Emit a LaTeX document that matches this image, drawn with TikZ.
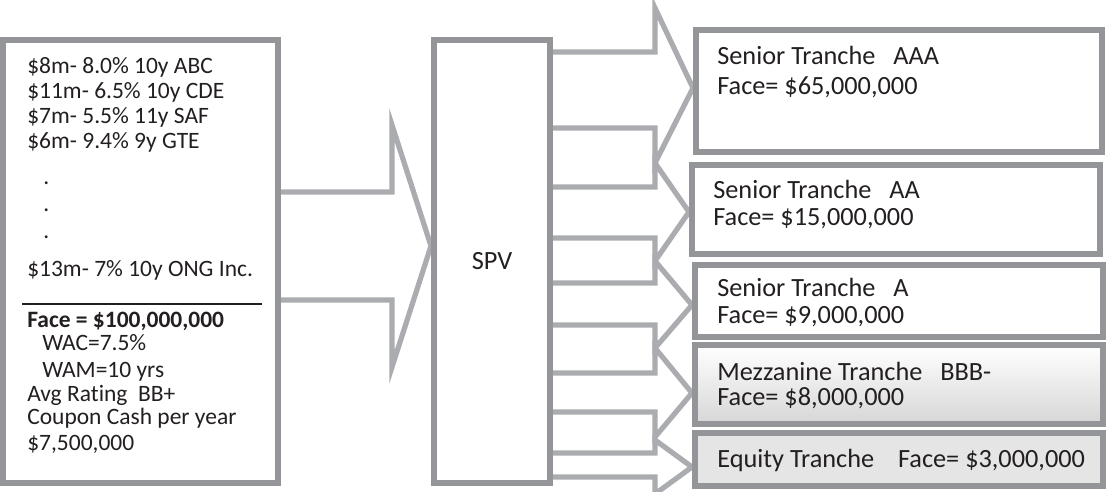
\documentclass[tikz,border=0pt]{standalone}
\usepackage{fontspec}
\setmainfont{Carlito}[Ligatures={NoCommon}]
\usetikzlibrary{fit,backgrounds}
\definecolor{boxgray}{HTML}{939598}
\definecolor{arrowgray}{HTML}{AAACAF}
\definecolor{ink}{HTML}{231F20}

\begin{document}
\begin{tikzpicture}[x=0.025cm, y=-0.025cm,
    box/.style={draw=boxgray, line width=4.3pt, fill=white, inner sep=0pt},
    blockarrow/.style={draw=arrowgray, line width=3.7pt},
    ltext/.style={anchor=base west, inner sep=0pt, text=ink, font=\fontsize{16.7}{18}\selectfont},
    rtext/.style={anchor=base west, inner sep=0pt, text=ink, font=\fontsize{18.7}{20}\selectfont}]
    \useasboundingbox (0,0) rectangle (1107,492);
    % collateral pool
    \node[box, line width=3.8pt, fit={(3,40) (278,483)}] (pool) {};
    \node[ltext] (b1) at (27,74) {\$8m- 8.0\% 10y ABC};
    \node[ltext] (b2) at (27,99) {\$11m- 6.5\% 10y CDE};
    \node[ltext] (b3) at (27,124) {\$7m- 5.5\% 11y SAF};
    \node[ltext] (b4) at (27,149) {\$6m- 9.4\% 9y GTE};
    \node[ltext] (d1) at (43,185) {.};
    \node[ltext] (d2) at (43,212) {.};
    \node[ltext] (d3) at (43,239) {.};
    \node[ltext] (bn) at (27,277) {\$13m- 7\% 10y ONG Inc.};
    \draw[ink, line width=2.1pt] (22,304) -- (262,304);
    \node[ltext] (face) at (27,327) {\textbf{Face = \$100,000,000}};
    \node[ltext] (wac) at (42,351) {WAC=7.5\%};
    \node[ltext] (wam) at (42,377) {WAM=10 yrs};
    \node[ltext] (rating) at (27,401) {Avg Rating~~BB+};
    \node[ltext] (coupon) at (27,425) {Coupon Cash per year};
    \node[ltext] (cash) at (27,450) {\$7,500,000};
    % SPV
    \node[box, fit={(434,40) (550,483)}] (spv) {};
    \node[rtext, anchor=center] (spvname) at (spv) {SPV};
    % tranches
    \node[box, fit={(696,30) (1102,152)}] (aaa) {};
    \node[rtext] (aaa1) at (717,65) {Senior Tranche~~~AAA};
    \node[rtext] (aaa2) at (717,95) {Face= \$65,000,000};
    \node[box, fit={(692,165) (1100,254)}] (aa) {};
    \node[rtext] (aa1) at (713,199) {Senior Tranche~~~AA};
    \node[rtext] (aa2) at (713,226) {Face= \$15,000,000};
    \node[box, fit={(695,265) (1103,337)}] (sa) {};
    \node[rtext] (sa1) at (717,297) {Senior Tranche~~~A};
    \node[rtext] (sa2) at (717,323) {Face= \$9,000,000};
    \node[box, top color=white, bottom color=gray!32, fit={(695,345) (1103,424)}] (mezz) {};
    \node[rtext] (mezz1) at (717,380) {Mezzanine Tranche~~~BBB-};
    \node[rtext] (mezz2) at (717,405) {Face= \$8,000,000};
    \node[box, fill=gray!20, fit={(695,433) (1103,486)}] (eq) {};
    \node[rtext] (eq1) at (717,467) {Equity Tranche~~~~Face= \$3,000,000};
    % block arrows
    \begin{pgfonlayer}{background}
        \draw[blockarrow] (pool.east |- 0,192) -- (392,192) -- (392,125) -- (spv.west |- 0,246)
            -- (392,367) -- (392,300) -- (pool.east |- 0,300);
        \draw[blockarrow] (spv.east |- 0,52) -- (655,52) -- (655,8) -- (aaa.west |- 0,88)
            -- (655,163) -- (655,128) -- (spv.east |- 0,128);
        \draw[blockarrow] (spv.east |- 0,187) -- (655,187) -- (655,163) -- (aa.west |- 0,212)
            -- (655,261) -- (655,238) -- (spv.east |- 0,238);
        \draw[blockarrow] (spv.east |- 0,283) -- (655,283) -- (655,261) -- (sa.west |- 0,305)
            -- (655,348) -- (655,325) -- (spv.east |- 0,325);
        \draw[blockarrow] (spv.east |- 0,373) -- (655,373) -- (655,348) -- (mezz.west |- 0,393)
            -- (655,437) -- (655,412) -- (spv.east |- 0,412);
        \draw[blockarrow] (spv.east |- 0,453) -- (655,453) -- (655,440) -- (eq.west |- 0,467)
            -- (655,494) -- (655,477) -- (spv.east |- 0,477);
    \end{pgfonlayer}
\end{tikzpicture}
\end{document}
